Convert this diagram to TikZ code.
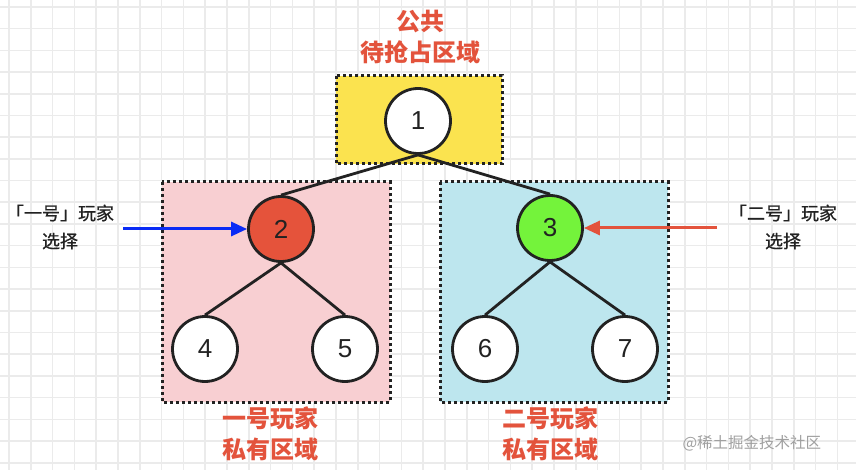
\documentclass[tikz,border=0pt]{standalone}
\usepackage{fontspec}
\setmainfont{Noto Sans CJK SC}
\newfontfamily\numfont{Liberation Sans}
\newfontfamily\medfont[FakeBold=0.6]{Noto Sans CJK SC}
\usetikzlibrary{arrows.meta}
\definecolor{gridc}{HTML}{EBEBEB}
\definecolor{ylw}{HTML}{FBE34F}
\definecolor{pnk}{HTML}{F8CFD2}
\definecolor{cyn}{HTML}{BDE6EE}
\definecolor{redn}{HTML}{E5533B}
\definecolor{grn}{HTML}{74F33B}
\definecolor{lbl}{HTML}{E3533C}
\definecolor{bluea}{HTML}{0A2BF5}
\definecolor{wm}{HTML}{A0A0A0}
\definecolor{lin}{HTML}{222222}
\tikzset{
  region/.style={draw=lin, line width=3pt, dash pattern=on 2.6pt off 3.4pt},
  tnode/.style={circle, draw=lin, line width=2.8pt, minimum size=65pt, inner sep=0pt, fill=white, font=\numfont\fontsize{26}{26}\selectfont, text=lin},
  edge/.style={draw=lin, line width=2.8pt},
  redlbl/.style={text=lbl, font=\fontsize{24}{31}\selectfont\bfseries, align=center},
  sidelbl/.style={text=lin, font=\medfont\fontsize{18}{28}\selectfont, align=center},
}
\begin{document}
\begin{tikzpicture}[x=1pt,y=-1pt]
\useasboundingbox (0,0) rectangle (856,470);
\fill[white] (0,0) rectangle (856,470);
\foreach \i in {0,...,39} { \draw[gridc, line width=1.6pt] (9+21.8*\i,0) -- (9+21.8*\i,470); }
\foreach \j in {0,...,21} { \draw[gridc, line width=1.6pt] (0,7+21.7*\j) -- (856,7+21.7*\j); }
% regions
\path[region, fill=ylw] (336,76) rectangle (502,164);
\path[region, fill=pnk] (162,182) rectangle (390,402);
\path[region, fill=cyn] (440,182) rectangle (668,402);
% nodes
\node[tnode] (n1) at (418,121) {1};
\node[tnode, fill=redn] (n2) at (281,229) {2};
\node[tnode, fill=grn] (n3) at (550,228) {3};
\node[tnode] (n4) at (205,349) {4};
\node[tnode] (n5) at (345,349) {5};
\node[tnode] (n6) at (485,349) {6};
\node[tnode] (n7) at (625,349) {7};
% edges
\draw[edge] (n1.south) -- (n2.north);
\draw[edge] (n1.south) -- (n3.north);
\draw[edge] (n2.south) -- (n4.north);
\draw[edge] (n2.south) -- (n5.north);
\draw[edge] (n3.south) -- (n6.north);
\draw[edge] (n3.south) -- (n7.north);
% labels
\node[redlbl] (top) at (420,37) {公共\\待抢占区域};
\node[redlbl] (b1) at (270,434) {一号玩家\\私有区域};
\node[redlbl] (b2) at (550,434) {二号玩家\\私有区域};
\node[sidelbl] (l1) at (60,227) {「一号」玩家\\选择};
\node[sidelbl] (l2) at (783,227) {「二号」玩家\\选择};
\coordinate (la) at (123,229);
\coordinate (ra) at (717,228);
\draw[bluea, line width=3pt, -{Triangle[length=16pt,width=14pt]}] (la) -- (n2.west);
\draw[lbl, line width=3pt, -{Triangle[length=16pt,width=14pt]}] (ra) -- (n3.east);
\node[text=wm, font=\fontsize{15.5}{15.5}\selectfont, anchor=west] (wmk) at (679,443) {@稀土掘金技术社区};
\end{tikzpicture}
\end{document}
